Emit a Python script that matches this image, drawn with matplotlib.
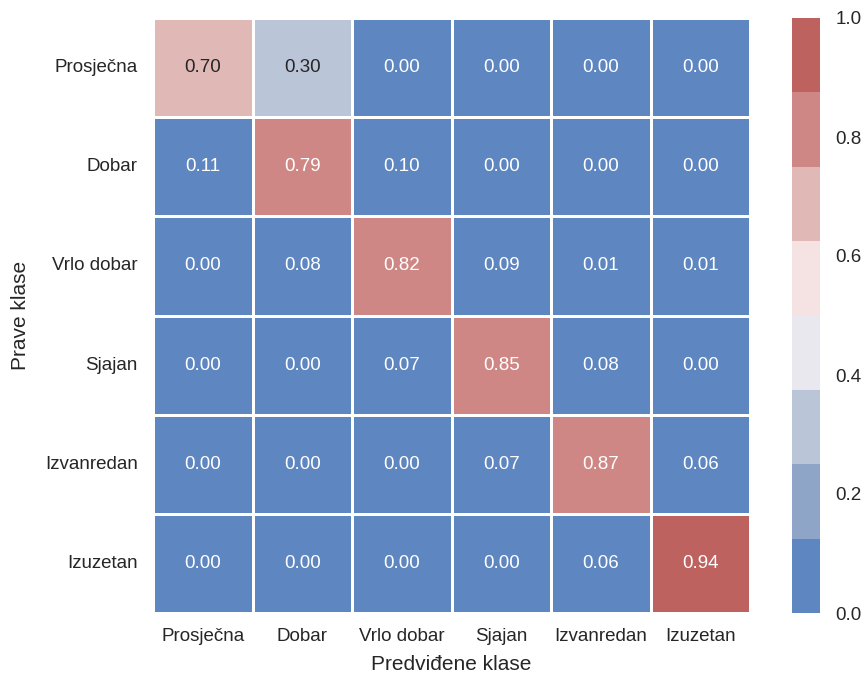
import numpy as np
import matplotlib
matplotlib.use("Agg")
import matplotlib.pyplot as plt
from matplotlib.colors import ListedColormap
import seaborn as sns

sns.set_theme(style="white")
plt.rcParams['font.family'] = ['Liberation Sans', 'DejaVu Sans']

klase = ['Prosječna', 'Dobar', 'Vrlo dobar', 'Sjajan', 'Izvanredan', 'Izuzetan']

# normalizirana matrica zabune (redovi = prave klase)
matrica = np.array([
    [0.70, 0.30, 0.00, 0.00, 0.00, 0.00],
    [0.11, 0.79, 0.10, 0.00, 0.00, 0.00],
    [0.00, 0.08, 0.82, 0.09, 0.01, 0.01],
    [0.00, 0.00, 0.07, 0.85, 0.08, 0.00],
    [0.00, 0.00, 0.00, 0.07, 0.87, 0.06],
    [0.00, 0.00, 0.00, 0.00, 0.06, 0.94],
])

boje = ['#5E86C0', '#8EA5C8', '#BBC5D8', '#E9E8EE',
        '#F5E3E3', '#E0B8B6', '#CF8785', '#BE6260']
paleta = ListedColormap(boje)

fig = plt.figure(figsize=(8.65, 6.75), dpi=100)
ax = fig.add_axes([153 / 865, 1 - 613 / 675, 597 / 865, 595 / 675])
cax = fig.add_axes([792 / 865, 1 - 613 / 675, 28 / 865, 595 / 675])

sns.heatmap(matrica, annot=True, fmt='.2f', cmap=paleta, vmin=0, vmax=1,
            linewidths=1, linecolor='white', ax=ax, cbar_ax=cax,
            xticklabels=klase, yticklabels=klase,
            annot_kws={'fontsize': 13.5})

ax.set_xlabel('Predviđene klase', fontsize=15, labelpad=7)
ax.set_ylabel('Prave klase', fontsize=15, labelpad=11)
ax.tick_params(axis='both', labelsize=13.5, length=0, pad=11)
plt.setp(ax.get_yticklabels(), rotation=0)
plt.setp(ax.get_xticklabels(), rotation=0)
cax.tick_params(labelsize=13.5, length=0, pad=11)
cax.yaxis.set_ticks([0, 0.2, 0.4, 0.6, 0.8, 1.0])

fig.savefig('out.png', dpi=100)
